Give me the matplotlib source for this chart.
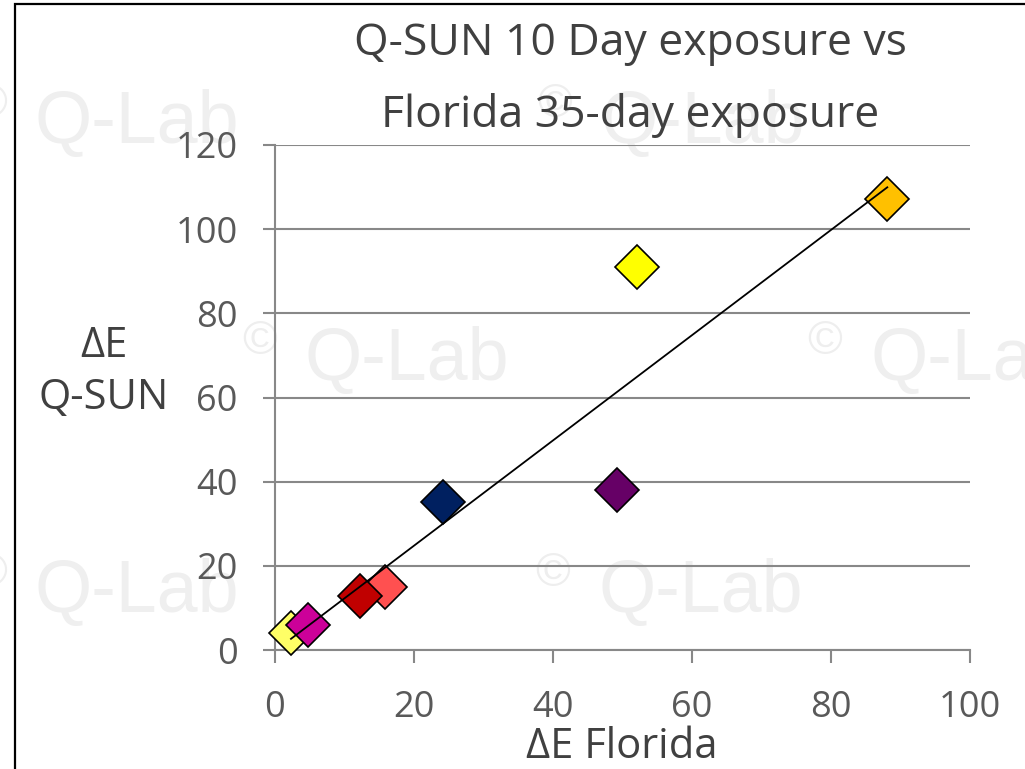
import numpy as np
from matplotlib import pyplot as plt
from matplotlib.patches import Rectangle

plt.rcParams['font.family'] = ['Open Sans', 'DejaVu Sans']

# data
florida = [2.3, 4.7, 15.8, 12.2, 24.2, 49.2, 52.1, 88.1]
qsun = [4.0, 5.9, 15.0, 12.8, 35.2, 38.0, 91.0, 107.2]
colors = ['#FFFF66', '#CC0099', '#FF5050', '#C00000', '#002060', '#660066', '#FFFF00', '#FFC000']

x_ticks = [0, 20, 40, 60, 80, 100]
y_ticks = [0, 20, 40, 60, 80, 100, 120]

fig = plt.figure(figsize=(10.25, 7.69), dpi=100)
W, H = 1025, 769

# watermark (behind everything)
marks = [(35, 143), (600, 143), (305, 380), (870, 380), (35, 612), (598, 612)]
for mx, my in marks:
	fig.text((mx - 45) / W, 1 - (my - 38) / H, '\u00a9', fontsize=34, color='#eeeeee',
		family='Liberation Sans', ha='center', va='center', zorder=-2)
	fig.text(mx / W, 1 - my / H, 'Q-Lab', fontsize=53, color='#efefef',
		family='Liberation Sans', ha='left', va='baseline', zorder=-2)

# frame around the chart
fig.patches.append(Rectangle((15 / W, -0.1), 1.2, 1 - 4 / H + 0.1, transform=fig.transFigure,
	fill=False, edgecolor='black', linewidth=1.6, zorder=1))

ax = fig.add_axes([275 / W, 1 - 650 / H, 695 / W, 505 / H])
ax.set_zorder(2)
ax.patch.set_alpha(0)

for i in range(len(florida)):
	ax.plot(florida[i], qsun[i], 'D', markersize=22, markerfacecolor=colors[i],
		markeredgecolor='black', markeredgewidth=1.2, zorder=3, clip_on=False)

# linear trendline
k, b = np.polyfit(florida, qsun, 1)
xs = np.array([min(florida), max(florida)])
ax.plot(xs, k * xs + b, color='black', linewidth=1.3, zorder=4)

ax.set_xlim(0, 100)
ax.set_ylim(0, 120)
ax.set_xticks(x_ticks)
ax.set_yticks(y_ticks)
ax.grid(axis='y', color='#888888', linewidth=1.5)
ax.set_axisbelow(True)
for s in ['top', 'right']:
	ax.spines[s].set_visible(False)
for s in ['left', 'bottom']:
	ax.spines[s].set_color('#888888')
	ax.spines[s].set_linewidth(1.5)
ax.tick_params(axis='both', direction='out', length=9, width=1.5, color='#888888',
	labelsize=26, labelcolor='#595959')
ax.tick_params(axis='x', pad=20)
ax.tick_params(axis='y', pad=18)

fig.text(630 / W, 1 - 55 / H, 'Q-SUN 10 Day exposure vs', fontsize=32,
	color='#404040', ha='center', va='baseline', zorder=3)
fig.text(630 / W, 1 - 127 / H, 'Florida 35-day exposure', fontsize=32,
	color='#404040', ha='center', va='baseline', zorder=3)
fig.text(104 / W, 1 - 372 / H, '\u0394E\nQ-SUN', fontsize=30, color='#404040',
	ha='center', va='center', linespacing=1.3, zorder=3)
fig.text(622 / W, 1 - 758 / H, '\u0394E Florida', fontsize=30, color='#404040',
	ha='center', va='baseline', zorder=3)

fig.savefig('out.png', dpi=100)
